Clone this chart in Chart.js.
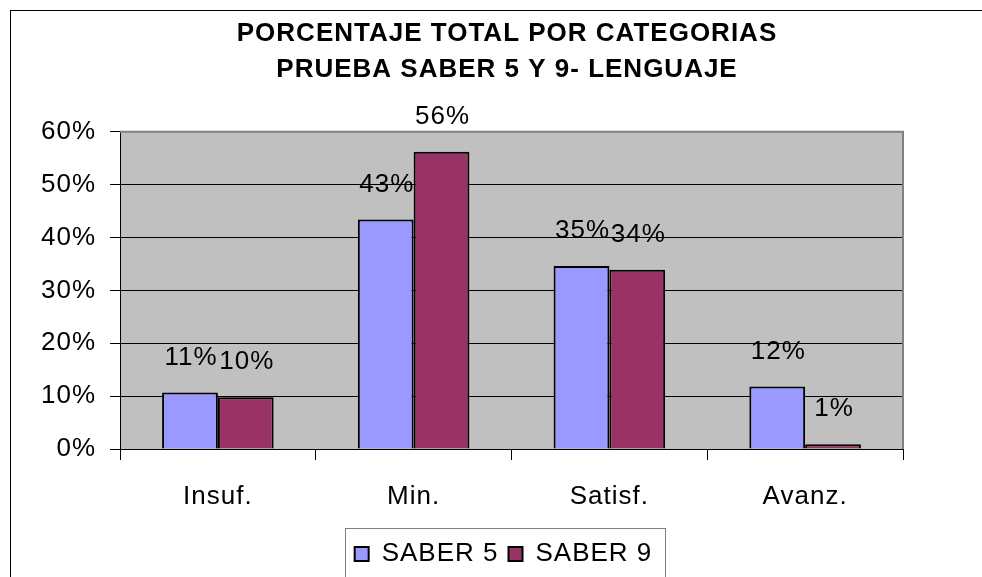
<!DOCTYPE html>
<html>
<head>
<meta charset="utf-8">
<script src="https://cdn.jsdelivr.net/npm/chart.js@4.4.1/dist/chart.umd.min.js"></script>
<style>
  body { margin: 0; background: #fff; }
  canvas { display: block; }
</style>
</head>
<body>
<canvas id="chart" width="982" height="577"></canvas>
<script>
const categories = ['Insuf.', 'Min.', 'Satisf.', 'Avanz.'];
const saber5 = [10.7, 43.4, 34.6, 11.8];
const saber9 = [9.8, 56.2, 33.9, 0.9];
const yTicks = [0, 10, 20, 30, 40, 50, 60];
const titleLines = ['PORCENTAJE TOTAL POR CATEGORIAS', 'PRUEBA SABER 5 Y 9- LENGUAJE'];

const FONT = "'Liberation Sans', Arial, sans-serif";
const SIZE = 26;

// el texto de Excel sale con algo de espaciado entre letras
const textSpacing = {
  id: 'textSpacing',
  beforeUpdate(chart) { chart.ctx.letterSpacing = '1px'; },
  beforeDraw(chart) { chart.ctx.letterSpacing = '1px'; },
  // titulo y leyenda centrados sobre todo el grafico, no solo el area util
  afterLayout(chart) {
    const t = chart.titleBlock;
    if (t) { t.left = 10; t.right = 1004; t.width = 994; }
    const l = chart.legend;
    if (l) { l.left = 10; l.right = 997; l.width = 987; }
  }
};

// fondo gris del area de trazado y marco exterior
const plotBackground = {
  id: 'plotBackground',
  beforeDraw(chart) {
    const { ctx, chartArea: a } = chart;
    ctx.save();
    ctx.fillStyle = '#fff';
    ctx.fillRect(0, 0, chart.width, chart.height);
    ctx.strokeStyle = '#000';
    ctx.lineWidth = 1;
    ctx.strokeRect(10.5, 10.5, 1200, 800);
    ctx.fillStyle = '#C0C0C0';
    ctx.fillRect(a.left, a.top, a.right - a.left, a.bottom - a.top);
    ctx.restore();
  },
  beforeDatasetsDraw(chart) {
    const { ctx, chartArea: a } = chart;
    ctx.save();
    ctx.strokeStyle = '#808080';
    ctx.lineWidth = 2;
    ctx.beginPath();
    ctx.moveTo(a.left, a.top);
    ctx.lineTo(a.right, a.top);
    ctx.lineTo(a.right, a.bottom);
    ctx.stroke();
    ctx.restore();
  }
};

// etiquetas de porcentaje sobre cada barra
const barLabels = {
  id: 'barLabels',
  afterDatasetsDraw(chart) {
    const ctx = chart.ctx;
    ctx.save();
    ctx.font = SIZE + 'px ' + FONT;
    ctx.fillStyle = '#000';
    ctx.textAlign = 'center';
    ctx.textBaseline = 'middle';
    chart.data.datasets.forEach((ds, i) => {
      chart.getDatasetMeta(i).data.forEach((bar, j) => {
        ctx.fillText(Math.round(ds.data[j]) + '%', bar.x + 1, bar.y - 35);
      });
    });
    ctx.restore();
  }
};

// recuadro de la leyenda
const legendBox = {
  id: 'legendBox',
  afterDraw(chart) {
    const boxes = chart.legend.legendHitBoxes;
    if (!boxes || !boxes.length) return;
    const first = boxes[0], last = boxes[boxes.length - 1];
    const ctx = chart.ctx;
    ctx.save();
    ctx.strokeStyle = '#808080';
    ctx.lineWidth = 1;
    const left = Math.round(first.left - 10) + 0.5;
    const right = Math.round(last.left + last.width + 13) + 0.5;
    const top = Math.round(first.top - 13) + 0.5;
    ctx.strokeRect(left, top, right - left, 200);
    ctx.restore();
  }
};

new Chart(document.getElementById('chart'), {
  type: 'bar',
  data: {
    labels: categories,
    datasets: [
      {
        label: 'SABER 5',
        data: saber5,
        backgroundColor: '#9999FF',
        borderColor: '#000',
        borderWidth: 2,
        categoryPercentage: 0.57,
        barPercentage: 1
      },
      {
        label: 'SABER 9',
        data: saber9,
        backgroundColor: '#993366',
        borderColor: '#000',
        borderWidth: 2,
        categoryPercentage: 0.57,
        barPercentage: 1
      }
    ]
  },
  options: {
    responsive: false,
    animation: false,
    layout: { padding: { left: 10, right: 79, top: 0, bottom: 0 } },
    plugins: {
      title: {
        display: true,
        text: titleLines,
        color: '#000',
        font: { family: FONT, size: 26, weight: 'bold', lineHeight: 1.38 },
        padding: { top: 16, bottom: 44 }
      },
      legend: {
        position: 'bottom',
        labels: {
          color: '#000',
          font: { family: FONT, size: SIZE },
          boxWidth: 14,
          boxHeight: 14,
          padding: 10
        }
      },
      tooltip: { enabled: false }
    },
    scales: {
      x: {
        afterFit(scale) { scale.height = 82; },
        grid: {
          display: true,
          drawOnChartArea: false,
          offset: true,
          color: '#000',
          tickLength: 11
        },
        border: { color: '#000', width: 1 },
        ticks: {
          color: '#000',
          font: { family: FONT, size: SIZE },
          padding: 21
        }
      },
      y: {
        min: 0,
        max: 60,
        afterFit(scale) { scale.width = 110; },
        afterBuildTicks(scale) { scale.ticks = yTicks.map(v => ({ value: v })); },
        grid: { color: '#000', tickLength: 10 },
        border: { color: '#000', width: 1 },
        ticks: {
          color: '#000',
          font: { family: FONT, size: SIZE },
          padding: 14,
          callback: v => v + '%'
        }
      }
    }
  },
  plugins: [textSpacing, plotBackground, barLabels, legendBox]
});
</script>
</body>
</html>
